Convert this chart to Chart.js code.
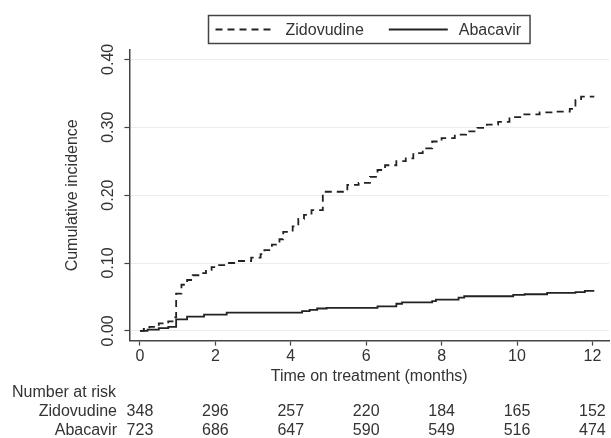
<!DOCTYPE html>
<html>
<head>
<meta charset="utf-8">
<script src="https://cdn.jsdelivr.net/npm/chart.js@4/dist/chart.umd.min.js"></script>
<style>
  html, body { margin: 0; padding: 0; background: #fff; }
  #wrap { width: 611px; height: 438px; }
</style>
</head>
<body>
<div id="wrap"><canvas id="km" width="611" height="438"></canvas></div>
<script>
// step points: value holds from each time onwards
const zidoTime = [0, 0.1, 0.25, 0.5, 0.75, 0.9, 0.96, 1.1, 1.25, 1.4, 1.55, 1.75, 1.9, 2.1, 2.3, 2.6, 2.95, 3.2, 3.3, 3.5, 3.7, 3.8, 4.05, 4.2, 4.35, 4.55, 4.85, 5.5, 5.8, 6.1, 6.3, 6.5, 6.8, 7.05, 7.25, 7.5, 7.75, 8.0, 8.35, 8.65, 8.95, 9.2, 9.5, 9.8, 10.15, 10.6, 11.05, 11.4, 11.55, 11.7, 12.05];
const zidoInc = [0, 0.003, 0.006, 0.011, 0.014, 0.02, 0.055, 0.068, 0.075, 0.082, 0.085, 0.09, 0.094, 0.097, 0.1, 0.103, 0.108, 0.113, 0.119, 0.127, 0.135, 0.146, 0.154, 0.165, 0.171, 0.178, 0.205, 0.215, 0.218, 0.227, 0.237, 0.244, 0.25, 0.254, 0.262, 0.269, 0.279, 0.284, 0.289, 0.294, 0.299, 0.304, 0.308, 0.315, 0.319, 0.322, 0.323, 0.327, 0.34, 0.345, 0.345];

const abacTime = [0, 0.2, 0.5, 0.75, 0.96, 1.25, 1.7, 2.3, 4.3, 4.5, 4.7, 4.95, 6.3, 6.8, 6.95, 7.75, 7.85, 8.45, 8.6, 9.9, 10.2, 10.8, 11.55, 11.8, 12.05];
const abacInc = [0, 0.002, 0.004, 0.006, 0.017, 0.021, 0.024, 0.027, 0.029, 0.031, 0.033, 0.034, 0.036, 0.04, 0.042, 0.044, 0.046, 0.049, 0.051, 0.053, 0.054, 0.056, 0.057, 0.059, 0.059];

const groups = ['Zidovudine', 'Abacavir'];
const xTicks = [0, 2, 4, 6, 8, 10, 12];
const yTicks = [0, 0.1, 0.2, 0.3, 0.4];
const riskTimes = [0, 2, 4, 6, 8, 10, 12];
const riskZido = [348, 296, 257, 220, 184, 165, 152];
const riskAbac = [723, 686, 647, 590, 549, 516, 474];

const FONT = '"Liberation Sans", Arial, Helvetica, sans-serif';
const INK = '#333';

function toPoints(times, vals) {
    return times.map((t, i) => ({ x: t, y: vals[i] }));
}

// boxed legend above the plot, centred on the plot area
const boxLegend = {
    id: 'boxLegend',
    afterDraw(chart) {
        const ctx = chart.ctx;
        const area = chart.chartArea;
        ctx.save();
        ctx.font = '16px ' + FONT;
        const sample = 59, gapText = 11, gapItem = 25, padL = 7, padR = 9;
        const w0 = ctx.measureText(groups[0]).width;
        const w1 = ctx.measureText(groups[1]).width;
        const total = padL + sample + gapText + w0 + gapItem + sample + gapText + w1 + padR;
        const left = Math.round((area.left + area.right) / 2 - total / 2) + 0.5;
        const top = 15.5, h = 28, mid = top + h / 2;
        ctx.strokeStyle = '#444';
        ctx.lineWidth = 1.5;
        ctx.strokeRect(left, top, total, h);

        let x = left + padL;
        chart.data.datasets.forEach((ds, i) => {
            ctx.beginPath();
            ctx.setLineDash(ds.borderDash || []);
            ctx.strokeStyle = ds.borderColor;
            ctx.lineWidth = ds.borderWidth;
            ctx.moveTo(x, mid);
            ctx.lineTo(x + sample, mid);
            ctx.stroke();
            ctx.setLineDash([]);
            x += sample + gapText;
            ctx.fillStyle = INK;
            ctx.textAlign = 'left';
            ctx.textBaseline = 'middle';
            ctx.fillText(groups[i], x, mid + 1);
            x += (i === 0 ? w0 : w1) + gapItem;
        });
        ctx.restore();
    }
};

// number-at-risk table under the x axis
const riskTable = {
    id: 'riskTable',
    afterDraw(chart) {
        const ctx = chart.ctx;
        const xs = chart.scales.x;
        ctx.save();
        ctx.font = '16px ' + FONT;
        ctx.fillStyle = INK;
        ctx.textBaseline = 'middle';
        ctx.textAlign = 'left';
        ctx.fillText('Number at risk', 12, 393);
        ctx.textAlign = 'right';
        ctx.fillText(groups[0], 117, 412);
        ctx.fillText(groups[1], 117, 431);
        ctx.textAlign = 'center';
        riskTimes.forEach((t, i) => {
            const px = xs.getPixelForValue(t);
            ctx.fillText(String(riskZido[i]), px, 412);
            ctx.fillText(String(riskAbac[i]), px, 431);
        });
        ctx.restore();
    }
};

new Chart(document.getElementById('km'), {
    type: 'line',
    data: {
        datasets: [
            {
                label: groups[0],
                data: toPoints(zidoTime, zidoInc),
                borderColor: '#222',
                borderWidth: 1.8,
                borderDash: [7, 5],
                stepped: true,
                pointRadius: 0,
                fill: false
            },
            {
                label: groups[1],
                data: toPoints(abacTime, abacInc),
                borderColor: '#222',
                borderWidth: 1.8,
                stepped: true,
                pointRadius: 0,
                fill: false
            }
        ]
    },
    options: {
        responsive: false,
        animation: false,
        layout: { padding: { top: 50, right: 2, left: 62, bottom: 52 } },
        plugins: {
            legend: { display: false },
            tooltip: { enabled: false }
        },
        scales: {
            x: {
                type: 'linear',
                min: -0.28,
                max: 12.44,
                afterBuildTicks: (s) => { s.ticks = xTicks.map(v => ({ value: v })); },
                border: { color: '#444', width: 1.5 },
                grid: { drawOnChartArea: false, tickLength: 5, tickColor: '#444', tickWidth: 1.2 },
                ticks: { color: INK, font: { family: FONT, size: 16 }, padding: 1, maxRotation: 0 },
                title: {
                    display: true,
                    text: 'Time on treatment (months)',
                    color: INK,
                    font: { family: FONT, size: 16 },
                    padding: { top: 0, bottom: 0 }
                }
            },
            y: {
                min: -0.0143,
                max: 0.4138,
                afterBuildTicks: (s) => { s.ticks = yTicks.map(v => ({ value: v })); },
                border: { color: '#444', width: 1.5 },
                grid: { color: '#ececec', lineWidth: 1, tickLength: 5, tickColor: '#444', tickWidth: 1.2 },
                ticks: {
                    color: INK,
                    font: { family: FONT, size: 16 },
                    padding: 0,
                    minRotation: 90,
                    maxRotation: 90,
                    crossAlign: 'center',
                    callback: (v) => Number(v).toFixed(2)
                },
                title: {
                    display: true,
                    text: 'Cumulative incidence',
                    color: INK,
                    font: { family: FONT, size: 16 },
                    padding: { top: 1, bottom: 23 }
                }
            }
        }
    },
    plugins: [boxLegend, riskTable]
});
</script>
</body>
</html>
